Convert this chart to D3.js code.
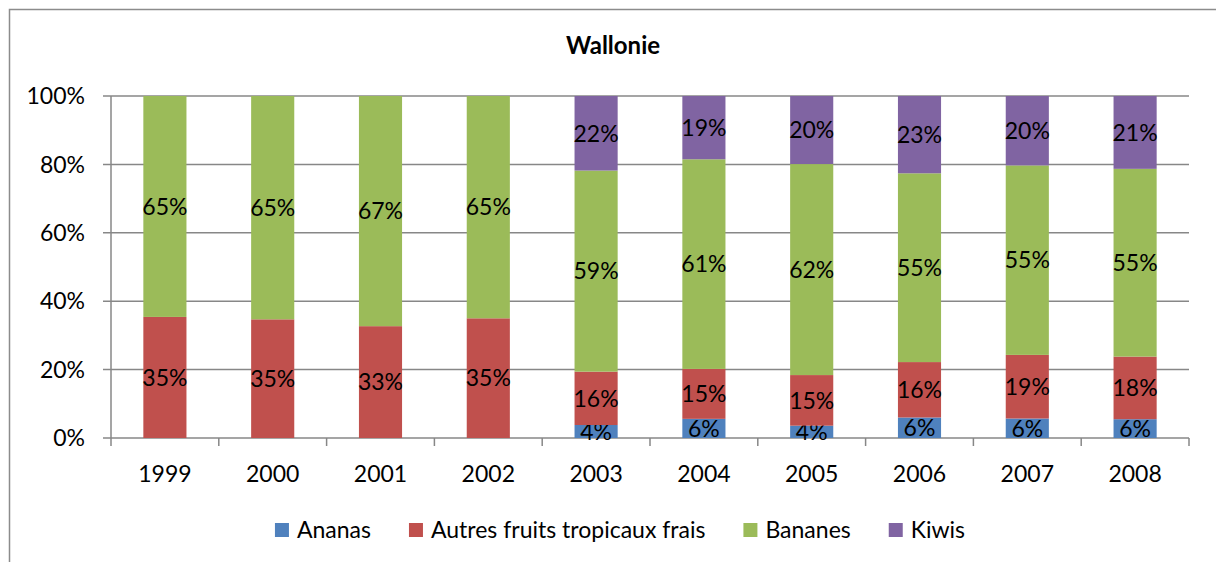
<!DOCTYPE html>
<html>
<head>
<meta charset="utf-8">
<script src="https://cdn.jsdelivr.net/npm/d3@7"></script>
<style>
  body { margin: 0; background: #fff; }
  svg text { font-family: Lato, "Open Sans", sans-serif; fill: #000; }
</style>
</head>
<body>
<svg id="chart"></svg>
<script>
// Wallonie - 100% stacked bars
const years = ["1999", "2000", "2001", "2002", "2003", "2004", "2005", "2006", "2007", "2008"];
const seriesNames = ["Ananas", "Autres fruits tropicaux frais", "Bananes", "Kiwis"];
const ananas = [0, 0, 0, 0, 3.8, 5.6, 3.6, 6.0, 5.7, 5.5];
const autres = [35.4, 34.7, 32.7, 35.0, 15.6, 14.6, 14.8, 16.2, 18.6, 18.3];
const bananes = [64.6, 65.3, 67.3, 65.0, 58.8, 61.3, 61.7, 55.2, 55.4, 54.9];
const kiwis = [0, 0, 0, 0, 21.8, 18.5, 19.9, 22.6, 20.3, 21.3];
const colors = ["#4F81BD", "#C0504D", "#9BBB59", "#8064A2"];
const yTicks = [0, 20, 40, 60, 80, 100];

const width = 1216, height = 562;
const margin = { top: 96, right: 27, bottom: 124, left: 111 };
const grid = "#878787";
const fontSize = 23;

const rows = years.map((y, i) => ({
    year: y,
    "Ananas": ananas[i],
    "Autres fruits tropicaux frais": autres[i],
    "Bananes": bananes[i],
    "Kiwis": kiwis[i]
}));

const svg = d3.select("#chart")
    .attr("width", width)
    .attr("height", height);

// outer frame (cut at right and bottom)
svg.append("path")
    .attr("d", `M9.5,${height} V9.5 H${width}`)
    .attr("fill", "none")
    .attr("stroke", "#8c8c8c")
    .attr("stroke-width", 1.5);

const x = d3.scaleBand()
    .domain(years)
    .range([margin.left, width - margin.right])
    .paddingInner(0.6)
    .paddingOuter(0.3);

const y = d3.scaleLinear()
    .domain([0, 100])
    .range([height - margin.bottom, margin.top]);

// gridlines
svg.append("g")
    .selectAll("line")
    .data(yTicks)
    .enter()
    .append("line")
    .attr("x1", margin.left - 8)
    .attr("x2", width - margin.right)
    .attr("y1", d => y(d))
    .attr("y2", d => y(d))
    .attr("stroke", grid)
    .attr("stroke-width", 1.5);

// y labels
svg.append("g")
    .selectAll("text")
    .data(yTicks)
    .enter()
    .append("text")
    .attr("x", 85)
    .attr("y", d => y(d))
    .attr("dy", "0.36em")
    .style("text-anchor", "end")
    .style("font-size", fontSize + "px")
    .text(d => d + "%");

// stacked bars
const stack = d3.stack().keys(seriesNames);
const layers = stack(rows);

const layerG = svg.append("g")
    .selectAll("g")
    .data(layers)
    .enter()
    .append("g")
    .attr("fill", (d, i) => colors[i]);

layerG.selectAll("rect")
    .data(d => d.filter(p => p[1] - p[0] > 0))
    .enter()
    .append("rect")
    .attr("x", d => x(d.data.year))
    .attr("width", x.bandwidth())
    .attr("y", d => y(d[1]))
    .attr("height", d => y(d[0]) - y(d[1]));

// y axis line
svg.append("line")
    .attr("x1", margin.left).attr("x2", margin.left)
    .attr("y1", y(100)).attr("y2", y(0))
    .attr("stroke", grid).attr("stroke-width", 1.5);

// x axis ticks at category boundaries
const bounds = d3.range(years.length + 1).map(i => margin.left + i * (width - margin.right - margin.left) / years.length);
svg.append("g")
    .selectAll("line")
    .data(bounds)
    .enter()
    .append("line")
    .attr("x1", d => d).attr("x2", d => d)
    .attr("y1", y(0)).attr("y2", y(0) + 8)
    .attr("stroke", grid).attr("stroke-width", 1.5);

// x labels
svg.append("g")
    .selectAll("text")
    .data(years)
    .enter()
    .append("text")
    .attr("x", d => x(d) + x.bandwidth() / 2)
    .attr("y", 482)
    .style("text-anchor", "middle")
    .style("font-size", fontSize + "px")
    .text(d => d);

// data labels
layerG.selectAll("text")
    .data(d => d.filter(p => p[1] - p[0] > 0))
    .enter()
    .append("text")
    .attr("x", d => x(d.data.year) + x.bandwidth() / 2)
    .attr("y", d => y((d[0] + d[1]) / 2))
    .attr("dy", "0.36em")
    .style("text-anchor", "middle")
    .style("font-size", fontSize + "px")
    .style("fill", "#000")
    .text(d => Math.round(d[1] - d[0]) + "%");

// title
svg.append("text")
    .attr("x", 613)
    .attr("y", 54)
    .style("text-anchor", "middle")
    .style("font-weight", "bold")
    .style("font-size", "24px")
    .text("Wallonie");

// legend
const legend = svg.append("g");
let lx = 0;
seriesNames.forEach((name, i) => {
    const item = legend.append("g").attr("transform", `translate(${lx},0)`);
    item.append("rect")
        .attr("x", 0).attr("y", -7)
        .attr("width", 14).attr("height", 14)
        .attr("fill", colors[i]);
    const t = item.append("text")
        .attr("x", 22)
        .attr("dy", "0.36em")
        .style("font-size", fontSize + "px")
        .text(name);
    lx += 22 + t.node().getComputedTextLength() + 38;
});
const legendWidth = lx - 38;
legend.attr("transform", `translate(${620 - legendWidth / 2},530)`);
</script>
</body>
</html>
